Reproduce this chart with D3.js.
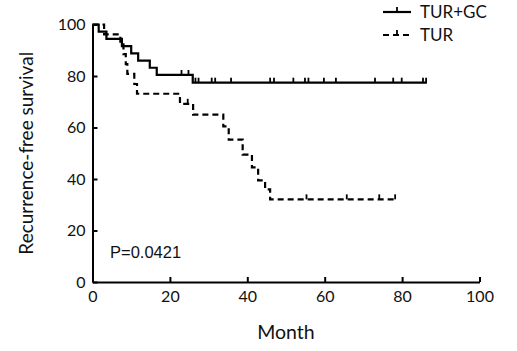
<!DOCTYPE html>
<html>
<head>
<meta charset="utf-8">
<script src="https://cdn.jsdelivr.net/npm/d3@7"></script>
<style>
  body { margin: 0; background: #fff; }
  svg { display: block; }
</style>
</head>
<body>
<div class="canvas"></div>
<script>
// Kaplan-Meier steps: [month, survival after step]
const gcSteps = [[0, 100], [1.6, 97.2], [3.6, 94.4], [7.6, 91.6], [10.0, 88.8], [11.8, 86.0],
                 [14.8, 83.2], [16.6, 80.4], [25.9, 77.4]];
const gcEnd = 86.4;
const gcCensor = [23.0, 24.8, 26.6, 27.4, 30.8, 31.7, 35.8, 45.9, 46.9, 51.9, 54.9, 55.8,
                  59.8, 62.9, 73.0, 77.7, 79.9, 85.4, 86.2];

const turSteps = [[0, 100], [3.0, 96.2], [7.2, 92.3], [8.0, 88.5], [8.6, 84.6], [9.0, 80.8],
                  [10.8, 76.9], [11.5, 73.1], [22.6, 69.2], [26.0, 65.0], [33.8, 60.4],
                  [35.2, 55.3], [38.8, 49.5], [41.2, 44.5], [42.8, 39.5], [44.6, 36.0], [45.9, 32.1]];
const turEnd = 78.2;
const turCensor = [24.6, 55.3, 65.7, 74.1, 78.2];

const xTicks = [0, 20, 40, 60, 80, 100];
const yTicks = [0, 20, 40, 60, 80, 100];

const W = 517, H = 351;

const svg = d3.select(".canvas")
  .append("svg")
    .attr("width", W)
    .attr("height", H);

const x = d3.scaleLinear().domain([0, 100]).range([92.5, 479.5]);
const y = d3.scaleLinear().domain([0, 100]).range([282, 24.5]);

const font = "Lato, 'Open Sans', sans-serif";

// axes
const xAxis = svg.append("g")
  .attr("transform", `translate(0,${y(0)})`)
  .call(d3.axisBottom(x).tickValues(xTicks).tickSizeInner(-5).tickSizeOuter(0).tickPadding(9));
const yAxis = svg.append("g")
  .attr("transform", `translate(${x(0)},0)`)
  .call(d3.axisLeft(y).tickValues(yTicks).tickSizeInner(-5).tickSizeOuter(0).tickPadding(7));

[xAxis, yAxis].forEach(g => {
  g.select(".domain").attr("stroke", "#000").attr("stroke-width", 2);
  g.selectAll(".tick line").attr("stroke", "#000").attr("stroke-width", 2);
  g.selectAll(".tick text")
    .attr("fill", "#111")
    .style("font-family", font)
    .style("font-size", "16px");
});

// step curves
const line = d3.line()
  .x(d => x(d[0]))
  .y(d => y(d[1]))
  .curve(d3.curveStepAfter);

function valueAt(steps, t) {
  let v = steps[0][1];
  steps.forEach(s => { if (s[0] <= t) v = s[1]; });
  return v;
}

function drawCurve(steps, end, censor, dash) {
  const pts = steps.concat([[end, steps[steps.length - 1][1]]]);
  svg.append("path")
    .datum(pts)
    .attr("fill", "none")
    .attr("stroke", "#000")
    .attr("stroke-width", 2.2)
    .attr("stroke-dasharray", dash)
    .attr("d", line);

  svg.selectAll(null)
    .data(censor)
    .enter().append("line")
      .attr("x1", d => x(d))
      .attr("x2", d => x(d))
      .attr("y1", d => y(valueAt(steps, d)))
      .attr("y2", d => y(valueAt(steps, d)) - 5)
      .attr("stroke", "#000")
      .attr("stroke-width", 1.8);
}

drawCurve(gcSteps, gcEnd, gcCensor, null);
drawCurve(turSteps, turEnd, turCensor, "6,4");

// legend
const legend = [
  { label: "TUR+GC", dash: null, y: 12 },
  { label: "TUR", dash: "6,4", y: 35 }
];
legend.forEach(d => {
  svg.append("line")
    .attr("x1", 383).attr("x2", 411)
    .attr("y1", d.y).attr("y2", d.y)
    .attr("stroke", "#000")
    .attr("stroke-width", 2.2)
    .attr("stroke-dasharray", d.dash);
  svg.append("line")
    .attr("x1", 397).attr("x2", 397)
    .attr("y1", d.y).attr("y2", d.y - 5)
    .attr("stroke", "#000")
    .attr("stroke-width", 1.8);
  svg.append("text")
    .attr("x", 420)
    .attr("y", d.y + 6)
    .style("font-family", font)
    .style("font-size", "17px")
    .attr("fill", "#111")
    .text(d.label);
});

// titles
svg.append("text")
  .attr("x", (x(0) + x(100)) / 2)
  .attr("y", 339)
  .attr("text-anchor", "middle")
  .style("font-family", font)
  .style("font-size", "19.5px")
  .attr("fill", "#111")
  .text("Month");

svg.append("text")
  .attr("transform", `translate(33,${(y(0) + y(100)) / 2}) rotate(-90)`)
  .attr("text-anchor", "middle")
  .style("font-family", font)
  .style("font-size", "19px")
  .attr("fill", "#111")
  .text("Recurrence-free survival");

svg.append("text")
  .attr("x", 110)
  .attr("y", 258)
  .style("font-family", "'Liberation Sans', Arial, sans-serif")
  .style("font-size", "16.5px")
  .attr("fill", "#111")
  .text("P=0.0421");
</script>
</body>
</html>
